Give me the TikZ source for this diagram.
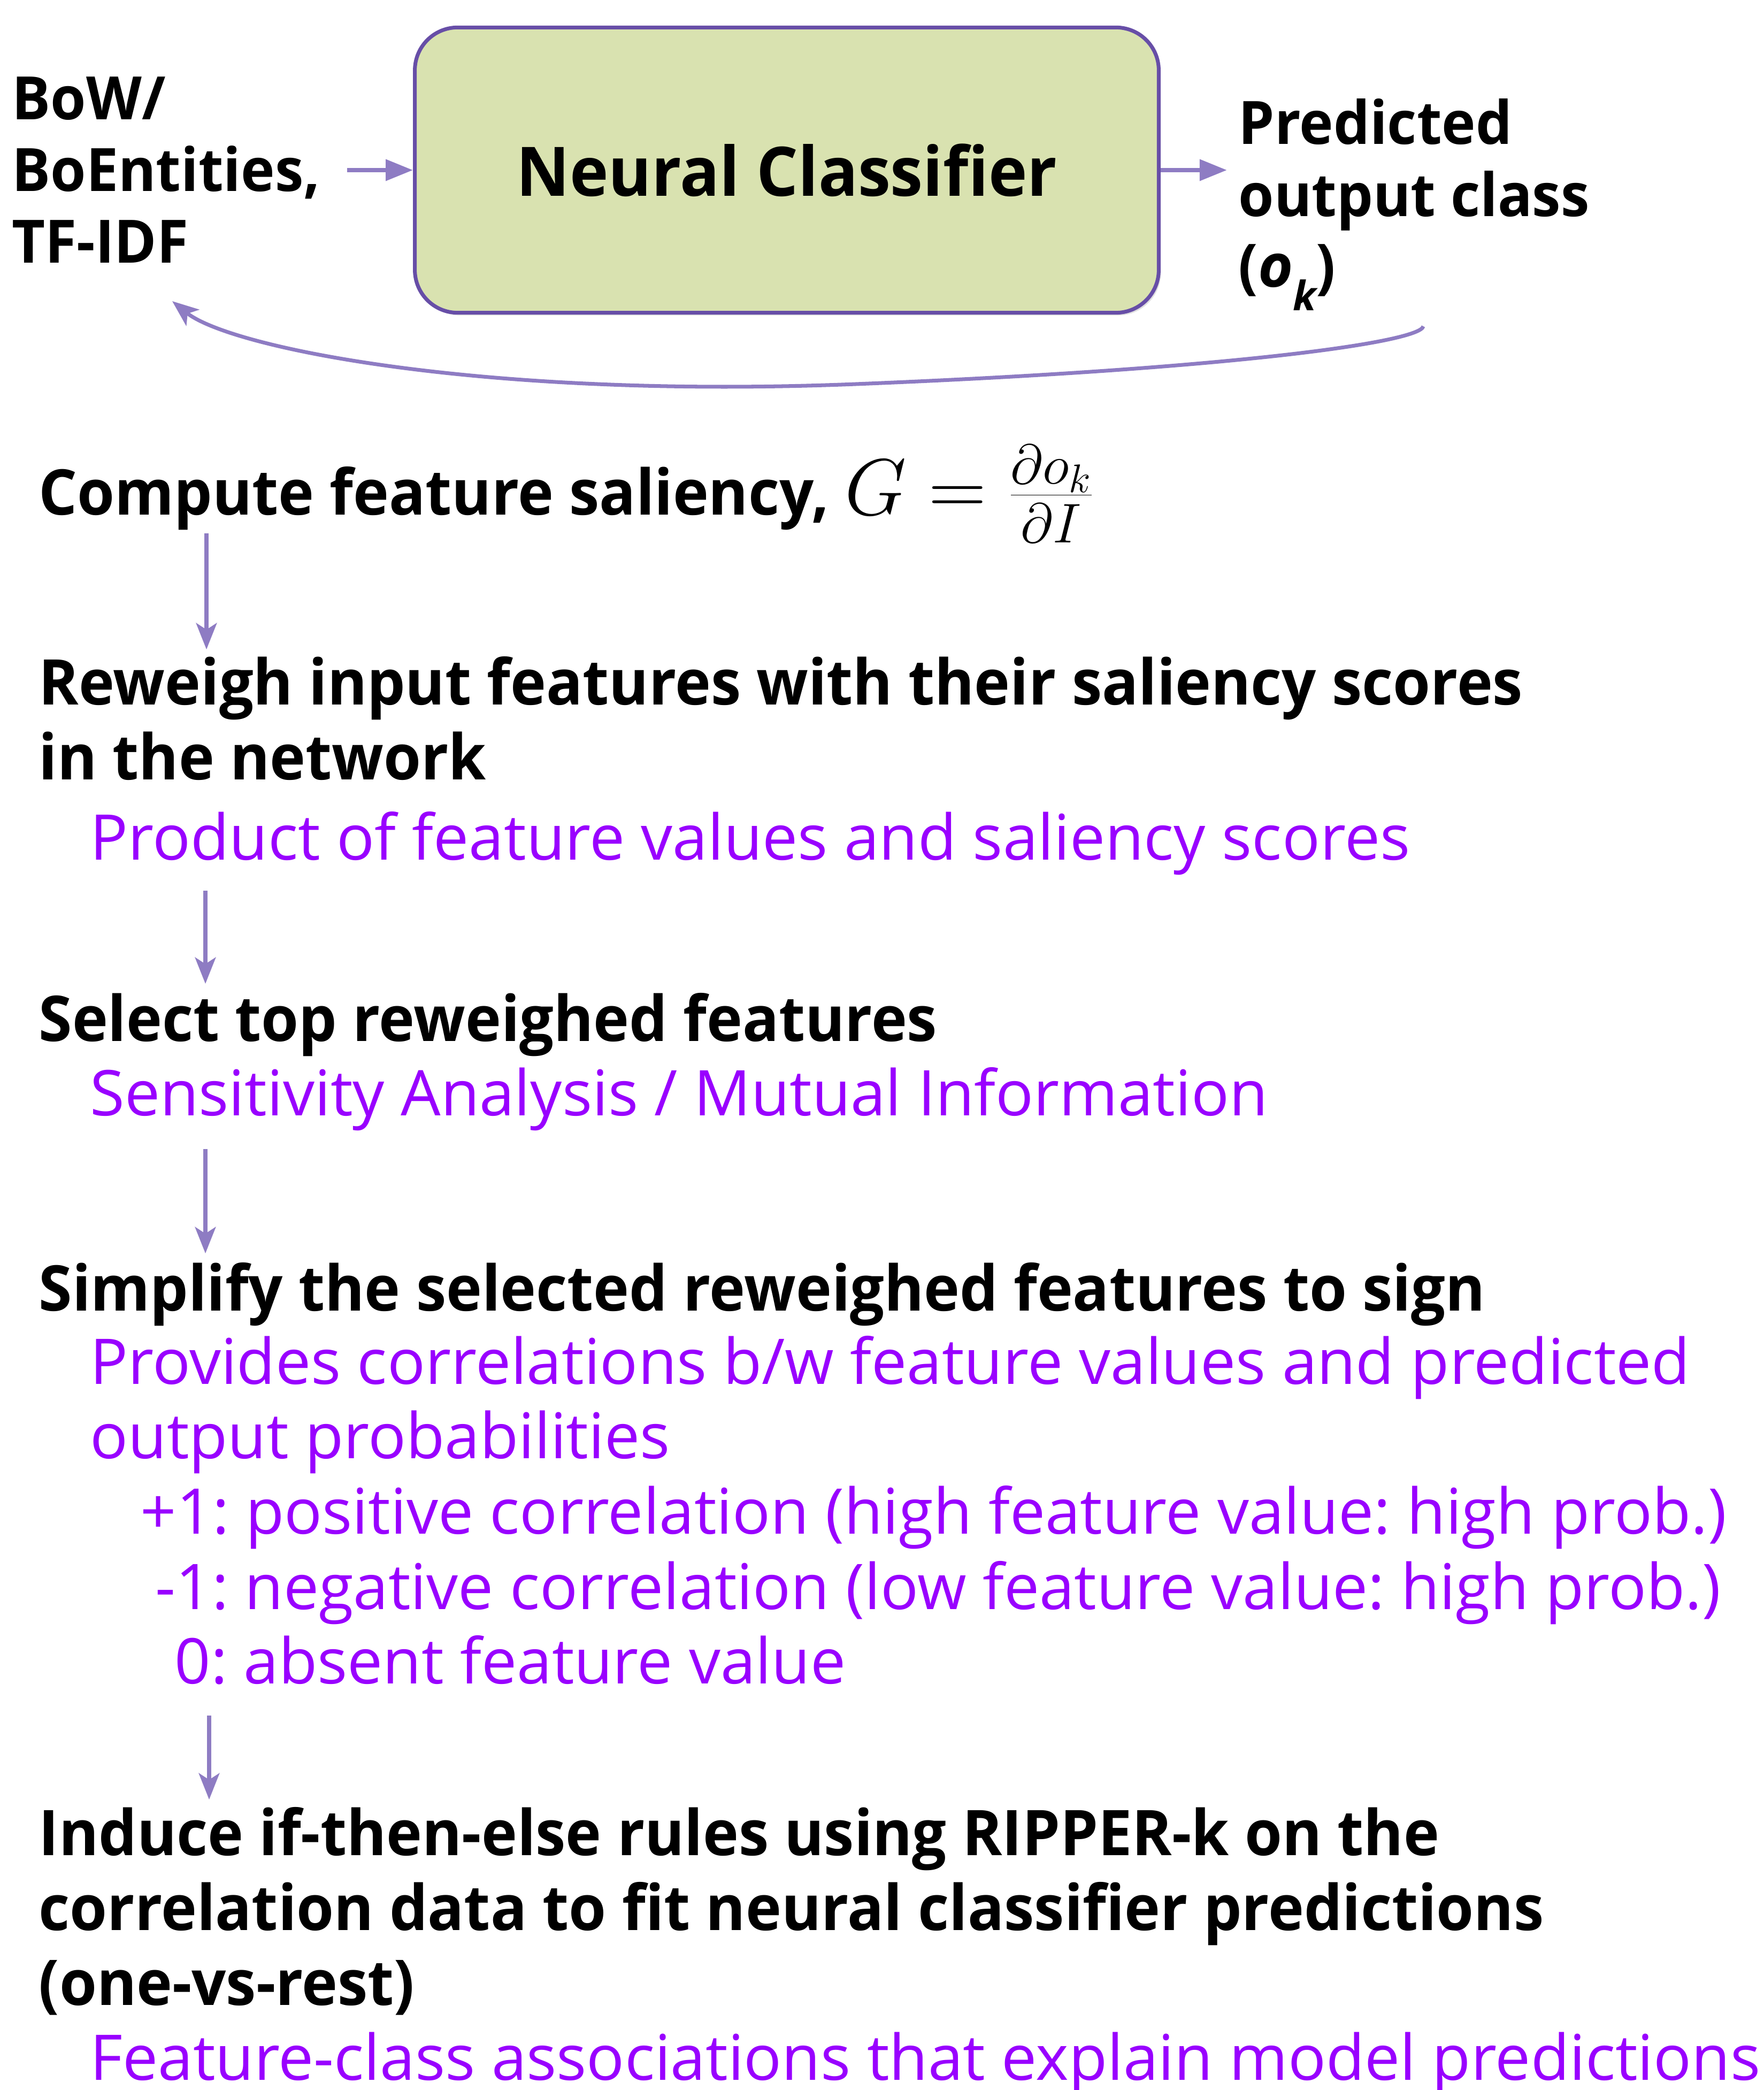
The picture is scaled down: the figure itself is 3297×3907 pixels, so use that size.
\RequirePackage{fix-cm}
\documentclass[tikz,border=0pt]{standalone}
\usepackage[no-math]{fontspec}
\setmainfont{Open Sans}[BoldFeatures={FakeStretch=0.96}]
\usepackage{xcolor}
\usetikzlibrary{calc,arrows.meta,shadows}
\definecolor{boxfill}{HTML}{D9E2B0}
\definecolor{boxline}{HTML}{674EA7}
\definecolor{arrowc}{HTML}{8E7CC3}
\definecolor{notec}{HTML}{9900FF}
\frenchspacing
\tikzset{
  head/.style={anchor=base west,inner sep=0pt,font={\bfseries\fontsize{33.5}{40}\selectfont}},
  note/.style={anchor=base west,inner sep=0pt,text=notec,font={\fontsize{33.5}{40}\selectfont}},
  side/.style={anchor=base west,inner sep=0pt,font={\bfseries\fontsize{31.8}{38}\selectfont}},
  flowh/.style={-{Triangle[length=14.5pt,width=11pt]},line width=2.3pt,arrowc},
  flowv/.style={-{Stealth[length=14pt,width=11pt,inset=3.5pt]},line width=2pt,arrowc},
  ncbox/.style={draw=boxline,line width=2pt,fill=boxfill,rounded corners=0.8cm,
    minimum width=13.9cm,minimum height=5.33cm,
    drop shadow={opacity=0.25,shadow xshift=0.04cm,shadow yshift=-0.05cm},
    font={\bfseries\fontsize{36.3}{44}\selectfont}}
}
\begin{document}
\begin{tikzpicture}[x=0.01cm,y=-0.01cm]
\useasboundingbox (0,0) rectangle (3297,3907);
% classifier loop
\node[ncbox] (nc) at (1471,318) {Neural Classifier};
\node[side] (in1) at (22,224) {BoW/};
\node[side] (in2) at (22,358) {BoEntities,};
\node[side] (in3) at (22,492) {TF-IDF};
\node[side] (out1) at (2315,270) {Predicted};
\node[side] (out2) at (2315,405) {output class};
\node[side] (out3) at (2315,537) {(\textit{o}\raisebox{-12.5pt}{\fontsize{21.6}{26}\selectfont\itshape k})};
\draw[flowh,shorten <=14pt] (in2.east |- nc.west) -- (nc.west);
\draw[flowh,shorten >=6pt] (nc.east) -- (nc.east -| out1.west);
\coordinate (fbs) at (2661,610);
\coordinate (fbe) at (322,563);
\draw[flowv] (fbs) .. controls (2655,640) and (2300,690) .. (1600,718)
  .. controls (900,746) and (430,650) .. (fbe);
% steps
\node[head] (compute) at (72,963) {Compute feature saliency, {\fontsize{42.5}{50}\selectfont$G=\frac{\partial o_k}{\partial I}$}};
\node[head] (reweigh1) at (72,1317) {Reweigh input features with their saliency scores};
\node[head] (reweigh2) at (72,1457) {in the network};
\node[note] (product) at (168,1607) {Product of feature values and saliency scores};
\node[head] (select) at (72,1946) {Select top reweighed features};
\node[note] (sensitivity) at (168,2085) {Sensitivity Analysis / Mutual Information};
\node[head] (simplify) at (72,2450) {Simplify the selected reweighed features to sign};
\node[note] (provides1) at (168,2587) {Provides correlations b/w feature values and predicted};
\node[note] (provides2) at (168,2726) {output probabilities};
\node[note] (pos) at (262,2867) {+1: positive correlation (high feature value: high prob.)};
\node[note] (neg) at (290,3008) {-1: negative correlation (low feature value: high prob.)};
\node[note] (absent) at (326,3147) {0: absent feature value};
\node[head] (induce1) at (72,3468) {Induce if-then-else rules using RIPPER-k on the};
\node[head] (induce2) at (72,3608) {correlation data to fit neural classifier predictions};
\node[head] (induce3) at (72,3748) {(one-vs-rest)};
\node[note] (assoc) at (168,3888) {Feature-class associations that explain model predictions};
\draw[flowv] ($(compute.base west)+(314,34)$) -- ($(reweigh1.base west)+(314,-103)$);
\draw[flowv] ($(product.base west)+(216,58)$) -- ($(select.base west)+(312,-107)$);
\draw[flowv] ($(sensitivity.base west)+(216,63)$) -- ($(simplify.base west)+(312,-107)$);
\draw[flowv] ($(absent.base west)+(65,60)$) -- ($(induce1.base west)+(319,-104)$);
\end{tikzpicture}
\end{document}
